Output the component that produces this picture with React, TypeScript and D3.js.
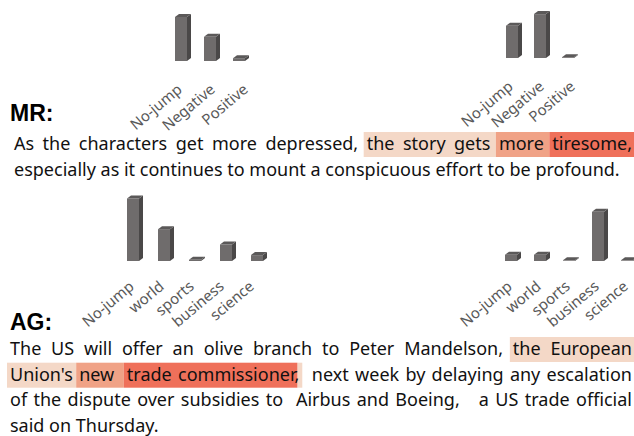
import React, { useEffect, useRef } from 'react';
import * as d3 from 'd3';

const W = 634;
const H = 436;

// bar charts: probability of each jump option
const mrCategories = ["No-jump", "Negative", "Positive"];
const mrLeftValues = [0.62, 0.34, 0.04];
const mrRightValues = [0.42, 0.57, 0.01];

const agCategories = ["No-jump", "world", "sports", "business", "science"];
const agLeftValues = [0.53, 0.27, 0.01, 0.14, 0.05];
const agRightValues = [0.10, 0.10, 0.01, 0.78, 0.01];

// text lines and highlighted spans: [line, firstWord, lastWord, level]
const mrLines = [
  "As the characters get more depressed, the story gets more tiresome,",
  "especially as it continues to mount a conspicuous effort to be profound.",
];
const mrHighlights = [[0, 6, 8, 1], [0, 9, 9, 2], [0, 10, 10, 3]];

const agLines = [
  "The US will offer an olive branch to Peter Mandelson, the European",
  "Union's new  trade commissioner,  next week by delaying any escalation",
  "of the dispute over subsidies to  Airbus and Boeing,   a US trade official",
  "said on Thursday.",
];
const agHighlights = [[0, 10, 11, 1], [1, 0, 0, 1], [1, 1, 2, 2], [1, 3, 4, 3]];
// trailing punctuation that gets its own level: [line, word, level]
const agPunct = [[1, 4, 1]];

const heatColors = ["none", "#f4d8c7", "#f0a286", "#ef705a"];

const FONT = "'Noto Sans', sans-serif";
const FS = 18;

const App = () => {
  const svgRef = useRef(null);

  useEffect(() => {
    const svg = d3.select(svgRef.current);
    svg.selectAll("*").remove();

    svg.append("rect").attr("width", W).attr("height", H).attr("fill", "#fff");

    // --- 3D bar charts ---
    const charts = [
      { cats: mrCategories, values: mrLeftValues, left: 175, step: 29, base: 61, h: 71, lstep: 33, loff: 30 },
      { cats: mrCategories, values: mrRightValues, left: 506, step: 28, base: 58, h: 77, lstep: 31, loff: 30 },
      { cats: agCategories, values: agLeftValues, left: 127, step: 31, base: 261, h: 118, lstep: 30, loff: 27 },
      { cats: agCategories, values: agRightValues, left: 505, step: 29, base: 261, h: 63, lstep: 29, loff: 27 },
    ];
    const bw = 12, dx = 4, dy = 3;

    charts.forEach(c => {
      const n = c.cats.length;
      const x = d3.scaleBand()
        .domain(c.cats)
        .range([c.left, c.left + c.step * (n - 1) + bw])
        .paddingInner(1 - bw / c.step)
        .paddingOuter(0)
        .align(0);
      // label positions spread slightly wider than the bars
      const xl = d3.scalePoint()
        .domain(c.cats)
        .range([c.left + bw / 2 + 2, c.left + bw / 2 + 2 + c.lstep * (n - 1)]);
      const y = d3.scaleLinear().domain([0, 1]).range([c.base, c.base - c.h]);

      const g = svg.append("g");
      c.cats.forEach((cat, i) => {
        const x0 = x(cat);
        const yt = y(c.values[i]);
        const bar = g.append("g");
        // side face
        bar.append("polygon")
          .attr("points", [[x0 + bw, yt], [x0 + bw + dx, yt - dy], [x0 + bw + dx, c.base - dy], [x0 + bw, c.base]].join(" "))
          .attr("fill", "#4a4848");
        // top face
        bar.append("polygon")
          .attr("points", [[x0, yt], [x0 + dx, yt - dy], [x0 + bw + dx, yt - dy], [x0 + bw, yt]].join(" "))
          .attr("fill", "#5b5959");
        // front face
        bar.append("rect")
          .attr("x", x0).attr("y", yt)
          .attr("width", bw).attr("height", c.base - yt)
          .attr("fill", "#6f6c6c");

        g.append("text")
          .attr("transform", `translate(${xl(cat)},${c.base + c.loff}) rotate(-40)`)
          .attr("text-anchor", "end")
          .style("font-family", FONT)
          .style("font-size", "15px")
          .style("fill", "#595959")
          .text(cat);
      });
    });

    // --- headings ---
    [["MR:", 121], ["AG:", 330]].forEach(([t, yy]) => {
      svg.append("text")
        .attr("x", 10).attr("y", yy)
        .style("font-family", "'Liberation Sans', Arial, sans-serif")
        .style("font-weight", "bold")
        .style("font-size", "23px")
        .style("fill", "#000")
        .text(t);
    });

    // --- paragraphs with heat highlights ---
    const paragraph = (lines, highlights, punct, x0, y0, lineH, right) => {
      const hlG = svg.append("g");
      const txG = svg.append("g")
        .style("font-family", FONT)
        .style("font-size", FS + "px")
        .style("fill", "#111");

      const levelOf = (li, wi) => {
        const h = highlights.find(d => d[0] === li && wi >= d[1] && wi <= d[2]);
        return h ? h[3] : 0;
      };

      lines.forEach((line, li) => {
        const words = line.split(" ");
        const yy = y0 + li * lineH;
        const nodes = words.map(w => txG.append("text").attr("y", yy).text(w));
        const ws = nodes.map(nd => nd.node().getComputedTextLength());
        const total = d3.sum(ws);
        const isLast = li === lines.length - 1;
        const gap = isLast ? FS * 0.26 : (right - x0 - total) / (words.length - 1);
        const xs = [];
        let cx = x0;
        ws.forEach(w => { xs.push(cx); cx += w + gap; });
        nodes.forEach((nd, i) => nd.attr("x", xs[i]));

        const pad = 3;
        highlights.filter(d => d[0] === li).forEach(([, a, b, lvl]) => {
          const next = b + 1;
          const x1 = xs[a] - pad;
          let x2 = next < words.length && levelOf(li, next) > 0 ? xs[next] - pad : xs[b] + ws[b] + pad;
          const p = punct.find(d => d[0] === li && d[1] === b);
          if (p) {
            // measure the word without its trailing punctuation
            const tmp = txG.append("text").text(words[b].replace(/[,.]$/, ""));
            const core = tmp.node().getComputedTextLength();
            tmp.remove();
            const xc = xs[b] + core;
            hlG.append("rect")
              .attr("x", xc).attr("y", yy - 18)
              .attr("width", x2 - xc).attr("height", 25)
              .attr("fill", heatColors[p[2]]);
            x2 = xc;
          }
          hlG.append("rect")
            .attr("x", x1).attr("y", yy - 18)
            .attr("width", x2 - x1).attr("height", 25)
            .attr("fill", heatColors[lvl]);
        });
      });
    };

    paragraph(mrLines, mrHighlights, [], 14, 150, 26, 632);
    paragraph(agLines, agHighlights, agPunct, 10, 355, 25.7, 632);
  }, []);

  return <svg ref={svgRef} width={W} height={H} style={{ position: 'absolute', left: 0, top: 0 }}></svg>;
};

export default App;
